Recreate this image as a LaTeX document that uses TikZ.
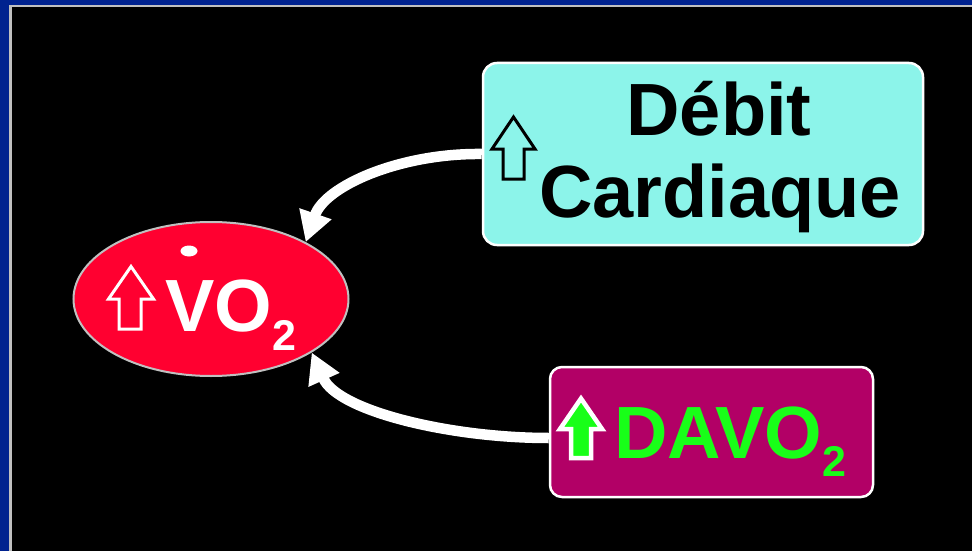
\documentclass[tikz,border=0pt]{standalone}
\usepackage{fontspec}
\setmainfont{Liberation Sans}
\usetikzlibrary{shapes.geometric,arrows.meta}
\definecolor{frameblue}{HTML}{00228F}
\definecolor{framegray}{HTML}{C0C0C0}
\definecolor{vored}{HTML}{FF0030}
\definecolor{cdcyan}{HTML}{8CF4EA}
\definecolor{dvmag}{HTML}{B20066}
\definecolor{dvgreen}{HTML}{18FF18}
\tikzset{
  bigtxt/.style={inner sep=0pt,font=\fontsize{74}{80}\selectfont\bfseries},
  subtxt/.style={inner sep=0pt,font=\fontsize{43}{48}\selectfont\bfseries},
  conn/.style={draw=white,line width=10.5pt,-{Triangle[length=30pt,width=32pt]}},
  boxstyle/.style={draw=white,line width=2.5pt,rounded corners=14pt,inner sep=0pt}
}
\begin{document}
\begin{tikzpicture}[x=1pt,y=-1pt]
\useasboundingbox (0,0) rectangle (972,551);
% frame
\fill[frameblue] (0,0) rectangle (972,551);
\fill[framegray] (9,5) rectangle (972,551);
\fill[black] (11.5,7.5) rectangle (972,551);

% nodes
\node[ellipse,draw=framegray,line width=2pt,fill=vored,minimum width=275pt,minimum height=154pt,inner sep=0pt] (vo) at (211,299) {};
\node[boxstyle,fill=cdcyan,minimum width=440pt,minimum height=182pt] (cd) at (703,154) {};
\node[boxstyle,fill=dvmag,minimum width=323pt,minimum height=130pt,rounded corners=12pt] (dv) at (711.5,432) {};

% texts
\node[bigtxt,anchor=base] (t1) at (719,135) {Débit};
\node[bigtxt,anchor=base] (t2) at (720,217) {Cardiaque};
\node[bigtxt,white,anchor=base west] (t3) at (165,331) {VO};
\node[subtxt,white,anchor=base west] (t4) at (272,350) {2};
\node[bigtxt,dvgreen,anchor=base west] (t5) at (614,458) {DAVO};
\node[subtxt,dvgreen,anchor=base west] (t6) at (822,476) {2};
\fill[white] (189,251) ellipse [x radius=8.5, y radius=5.5];

% icon arrows
\draw[black,line width=3pt,fill=cdcyan,line join=miter]
  (503,179) -- (503,149) -- (492,149) -- (513.5,117) -- (535,149) -- (524,149) -- (524,179) -- cycle;
\draw[white,line width=3pt,fill=vored,line join=miter]
  (119,329) -- (119,299) -- (108.5,299) -- (131,266.5) -- (153.5,299) -- (141,299) -- (141,329) -- cycle;
\draw[white,line width=4.5pt,fill=dvgreen,line join=miter]
  (571,458) -- (571,429) -- (560,429) -- (581,398.5) -- (602,429) -- (591,429) -- (591,458) -- cycle;

% connectors
\draw[conn] (cd.west) .. controls (400,153) and (325,186) .. (vo.31);
\draw[conn] ([yshift=-6pt]dv.west) .. controls (450,438) and (338,411) .. (vo.-28);
\end{tikzpicture}
\end{document}
